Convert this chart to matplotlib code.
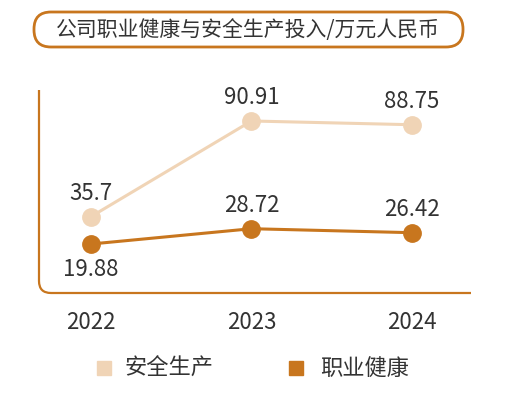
import numpy as np
import matplotlib.pyplot as plt
from matplotlib.patches import FancyBboxPatch, Rectangle
from matplotlib.path import Path
from matplotlib.patches import PathPatch

plt.rcParams['font.family'] = ['Noto Sans CJK SC', 'DejaVu Sans']

# ----- Datos -----
years = ['2022', '2023', '2024']
safety = [35.7, 90.91, 88.75]      # 安全生产
health = [19.88, 28.72, 26.42]     # 职业健康
series_names = ['安全生产', '职业健康']
title = '公司职业健康与安全生产投入/万元人民币'

c_light = '#F0D4B6'
c_dark = '#C8761E'
c_text = '#333333'

W, H = 532, 394
fig = plt.figure(figsize=(W / 100, H / 100), dpi=100)

# eje principal (posición en píxeles)
ax_l, ax_r, ax_t, ax_b = 39, 471, 90, 293
ax = fig.add_axes([ax_l / W, (H - ax_b) / H, (ax_r - ax_l) / W, (ax_b - ax_t) / H])
x = np.arange(len(years))

ax.plot(x, safety, color=c_light, lw=2.2, marker='o', ms=12.5, zorder=2)
ax.plot(x, health, color=c_dark, lw=2.2, marker='o', ms=12.5, zorder=3)

for xi, v in zip(x, safety):
    ax.annotate(f'{v:g}', (xi, v), xytext=(0, 17), textcoords='offset points',
                ha='center', va='center', fontsize=16, color=c_text)
for i, (xi, v) in enumerate(zip(x, health)):
    dy = -18 if i == 0 else 17
    ax.annotate(f'{v:g}', (xi, v), xytext=(0, dy), textcoords='offset points',
                ha='center', va='center', fontsize=16, color=c_text)

ax.set_xlim(-0.324, 2.368)
ax.set_ylim(-8.4, 108.8)
ax.set_yticks([])
ax.set_xticks(x)
ax.set_xticklabels(years, fontsize=16, color=c_text)
ax.tick_params(axis='x', length=0, pad=13)
for s in ax.spines.values():
    s.set_visible(False)
ax.patch.set_alpha(0)

# capa superpuesta en píxeles: marco del título, esquina redondeada, leyenda
ov = fig.add_axes([0, 0, 1, 1], zorder=-1)
ov.set_xlim(0, W)
ov.set_ylim(H, 0)
ov.axis('off')

r = 12
verts = [(ax_l, ax_t), (ax_l, ax_b - r), (ax_l, ax_b), (ax_l + r, ax_b), (ax_r, ax_b)]
codes = [Path.MOVETO, Path.LINETO, Path.CURVE3, Path.CURVE3, Path.LINETO]
ov.add_patch(PathPatch(Path(verts, codes), fill=False, edgecolor=c_dark, lw=1.6))

ov.add_patch(FancyBboxPatch((34, 12), 429, 35, boxstyle='round,pad=0,rounding_size=17',
                            fill=False, edgecolor=c_dark, lw=2))
ov.text(248, 30, title, ha='center', va='center', fontsize=15, color=c_text)

for (sx, tx), name, col in zip([(97, 124), (289, 320)], series_names, [c_light, c_dark]):
    ov.add_patch(Rectangle((sx, 361), 14, 14, color=col))
    ov.text(tx, 368, name, ha='left', va='center', fontsize=16, color=c_text)

fig.savefig('out.png', dpi=100)
